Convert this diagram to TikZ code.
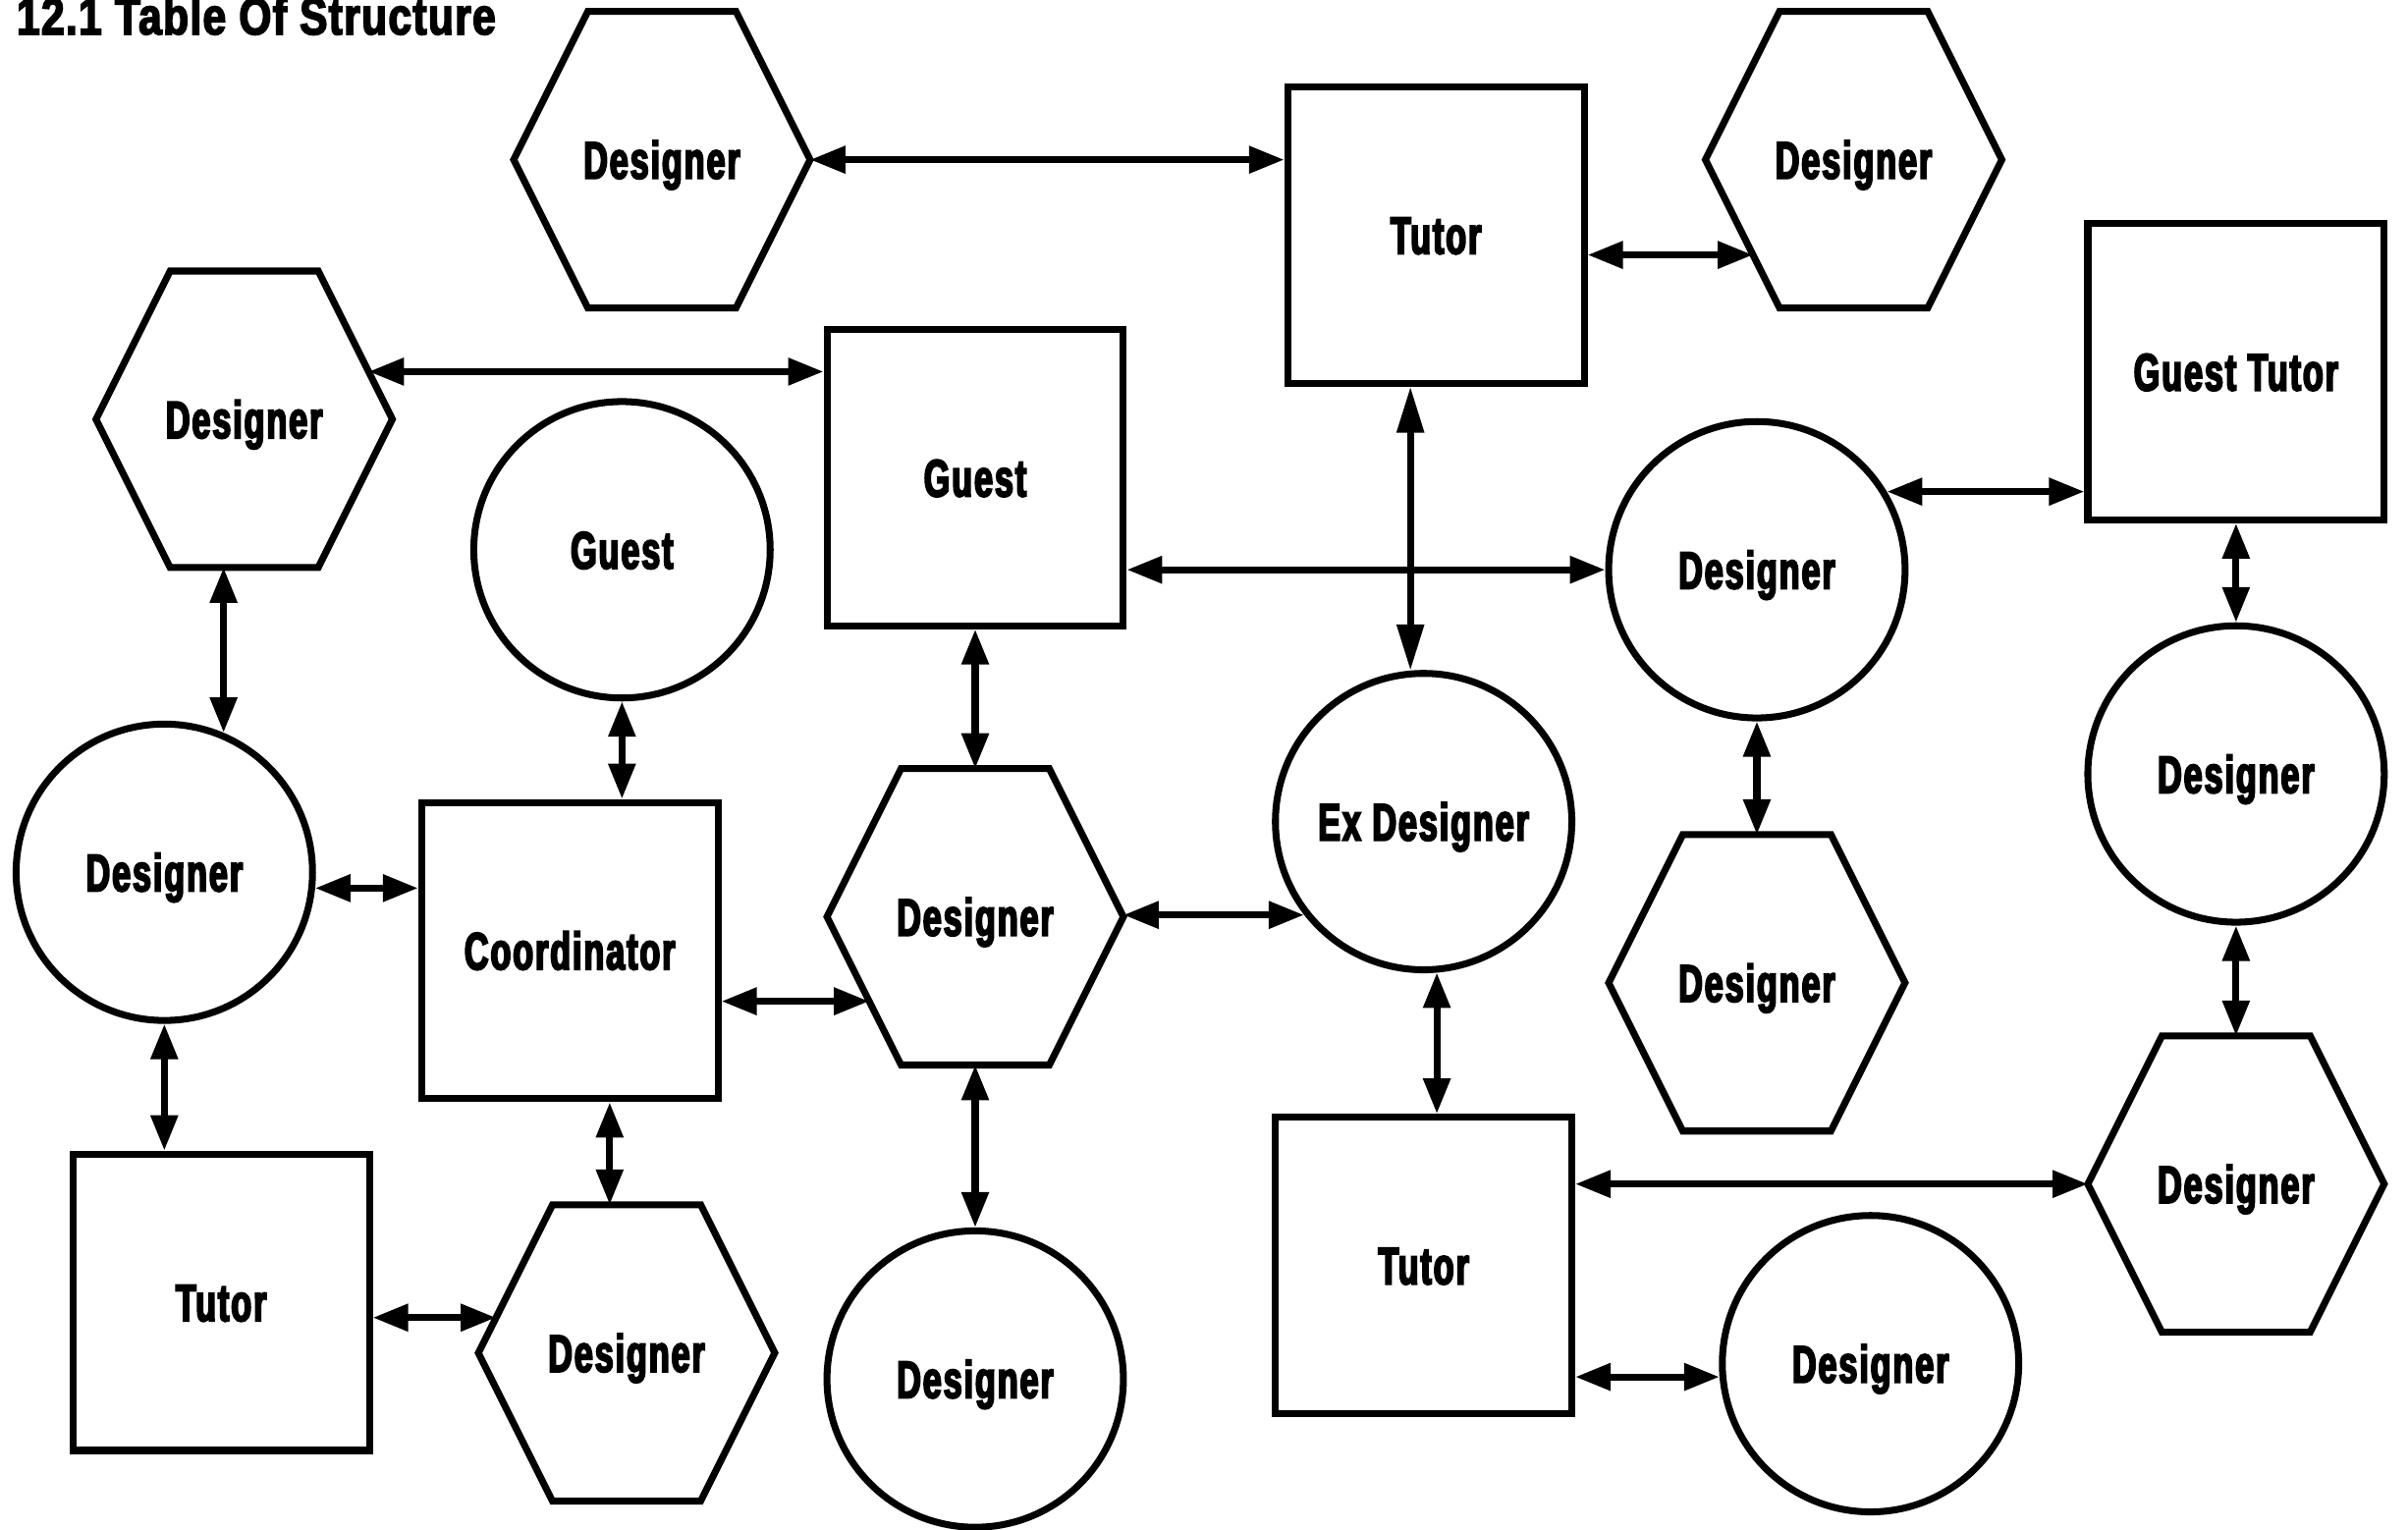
\documentclass[tikz,border=0pt]{standalone}
\usepackage{fontspec}
\usetikzlibrary{arrows.meta,calc}
\newfontfamily\lblfont{Liberation Sans}[FakeStretch=0.64,FakeBold=3.5,LetterSpace=3.5]
\newfontfamily\ttlfont{Liberation Sans}[FakeStretch=0.80,FakeBold=3,LetterSpace=2.5]
\newcommand{\hexoutline}[1]{%
  \draw[shapeline] (#1.west) -- ($(#1.north west)!0.25!(#1.north east)$) -- ($(#1.north west)!0.75!(#1.north east)$) -- (#1.east) -- ($(#1.south west)!0.75!(#1.south east)$) -- ($(#1.south west)!0.25!(#1.south east)$) -- cycle;}
\begin{document}
\begin{tikzpicture}[x=1pt,y=-1pt,
  shapeline/.style={line width=4.5pt, draw=black},
  lbl/.style={font=\lblfont\bfseries\fontsize{34.2pt}{40pt}\selectfont, text height=24.5pt, text depth=0pt, inner sep=0pt},
  boxnode/.style={lbl, rectangle, shapeline, minimum size=193pt, outer sep=2.25pt},
  circnode/.style={lbl, circle, shapeline, minimum size=193pt, outer sep=2.25pt},
  hexnode/.style={lbl, rectangle, minimum size=193pt, outer sep=0pt},
  >={Triangle[length=23pt,width=17pt]},
  conn/.style={line width=4.5pt, <->},
  longconn/.style={line width=4.5pt, {Triangle[length=30pt,width=17pt]}-{Triangle[length=30pt,width=17pt]}}
]
\useasboundingbox (0,0) rectangle (1568,996);
\fill[white] (0,0) rectangle (1568,996);
\clip (0,0) rectangle (1568,996);

\node[anchor=base west, inner sep=0pt, font=\ttlfont\bfseries\fontsize{34pt}{38pt}\selectfont] (title) at (10.7,22.4) {12.1 Table Of Structure};

% hexagons
\node[hexnode] (H1) at (431,104) {Designer};
\node[hexnode] (H2) at (1207,104) {Designer};
\node[hexnode] (H3) at (159,273) {Designer};
\node[hexnode] (H4) at (635,597) {Designer};
\node[hexnode] (H5) at (408,881) {Designer};
\node[hexnode] (H6) at (1144,640) {Designer};
\node[hexnode] (H7) at (1456,771) {Designer};
\hexoutline{H1}\hexoutline{H2}\hexoutline{H3}\hexoutline{H4}\hexoutline{H5}\hexoutline{H6}\hexoutline{H7}

% squares
\node[boxnode] (S1) at (935,153) {Tutor};
\node[boxnode] (S2) at (635,311) {Guest};
\node[boxnode] (S3) at (1456,242) {Guest Tutor};
\node[boxnode] (S4) at (371,619) {Coordinator};
\node[boxnode] (S5) at (144,848) {Tutor};
\node[boxnode] (S6) at (927,824) {Tutor};

% circles
\node[circnode] (C1) at (405,358) {Guest};
\node[circnode] (C2) at (107,568) {Designer};
\node[circnode] (C3) at (927,535) {Ex Designer};
\node[circnode] (C4) at (1144,371) {Designer};
\node[circnode] (C5) at (1456,504) {Designer};
\node[circnode] (C6) at (635,898) {Designer};
\node[circnode] (C7) at (1218,888) {Designer};

% helper coordinates
\coordinate (a2) at ($(S1.east)+(0,13)$);
\coordinate (b2) at ($(H2.west)+(31,62)$);
\coordinate (a3) at ($(H3.east)+(-15.5,-31)$);
\coordinate (b13) at ($(H4.west)+(27.5,55)$);
\coordinate (a18) at ($(S4.south)+(26,0)$);
\coordinate (b20) at ($(H5.west)+(11.5,-23)$);

% connectors
\draw[conn] (H1.east) -- (H1.east -| S1.west);
\draw[conn] (a2) -- (b2);
\draw[conn] (a3) -- (a3 -| S2.west);
\draw[conn] (C4.west -| S2.east) -- (C4.west);
\draw[longconn] (C3.95 |- S1.south) -- (C3.95);
\draw[conn] (C4.31) -- (C4.31 -| S3.west);
\draw[conn] (S3.south) -- (C5.north);
\draw[conn] (C5.south) -- (H7.north);
\draw[conn] (C2.67 |- H3.south) -- (C2.67);
\draw[conn] (C1.south) -- (C1.south |- S4.north);
\draw[conn] (S2.south) -- (H4.north);
\draw[conn] (C2.354) -- (C2.354 -| S4.west);
\draw[conn] (b13 -| S4.east) -- (b13);
\draw[conn] (C3.218 -| H4.east) -- (C3.218);
\draw[conn] (C4.south) -- (H6.north);
\draw[conn] (C3.275) -- (C3.275 |- S6.north);
\draw[conn] (C2.south) -- (C2.south |- S5.north);
\draw[conn] (a18) -- (a18 |- H5.north);
\draw[conn] (H4.south) -- (C6.north);
\draw[conn] (b20 -| S5.east) -- (b20);
\draw[conn] (H7.west -| S6.east) -- (H7.west);
\draw[conn] (C7.185 -| S6.east) -- (C7.185);
\end{tikzpicture}
\end{document}
